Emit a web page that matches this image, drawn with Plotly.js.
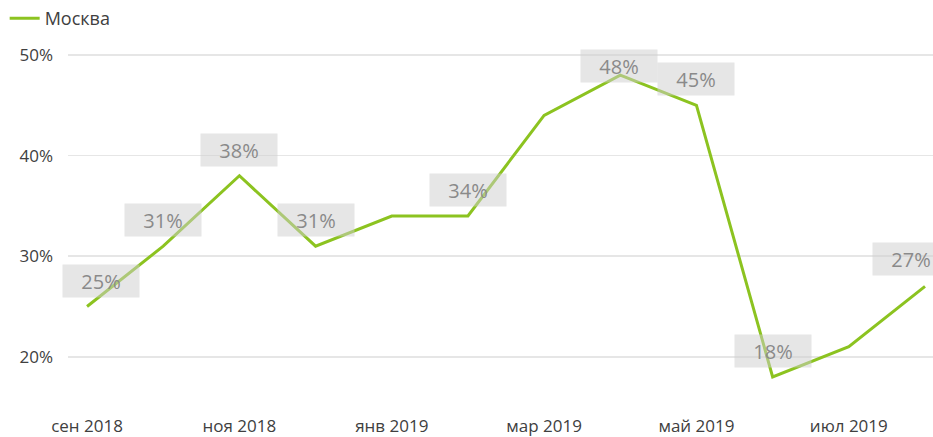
<!DOCTYPE html>
<html><head><meta charset="utf-8">
<script src="https://cdn.plot.ly/plotly-3.0.1.min.js"></script>
<style>html,body{margin:0;padding:0;background:#fff}#c{width:933px;height:437px}</style>
</head><body><div id="c"></div>
<script>
const months = ['сен 2018','окт 2018','ноя 2018','дек 2018','янв 2019','фев 2019','мар 2019','апр 2019','май 2019','июн 2019','июл 2019','авг 2019'];
const values = [25, 31, 38, 31, 34, 34, 44, 48, 45, 18, 21, 27];
const labelShown = [true, true, true, true, false, true, false, true, true, true, false, true];
const tickIdx = [0, 2, 4, 6, 8, 10];
const tickText = ['сен 2018','ноя 2018','янв 2019','мар 2019','май 2019','июл 2019'];
const yTicks = [20, 30, 40, 50];
const seriesName = 'Москва';

const xs = months.map((m, i) => i);
const FONT = '"Open Sans", "Noto Sans", sans-serif';

// label offsets (px) – default above the point
const off = {0: [14, -26], 7: [-1, -9], 11: [-14, -27]};
const annotations = [];
values.forEach((v, i) => {
  if (!labelShown[i]) return;
  const o = off[i] || [0, -26];
  annotations.push({
    x: i, y: v, xref: 'x', yref: 'y',
    text: v + '%', showarrow: true, arrowcolor: 'rgba(0,0,0,0)', arrowwidth: 0.1,
    ax: o[0], ay: o[1],
    bgcolor: 'rgba(205,205,205,0.5)', borderpad: 2, width: 72, height: 28,
    font: {family: FONT, size: 20, color: '#8a8a8a'}
  });
});

const trace = {
  x: xs, y: values, type: 'scatter', mode: 'lines', name: seriesName,
  line: {color: '#8cc320', width: 3}, cliponaxis: false, showlegend: true
};

const layout = {
  width: 933, height: 437,
  margin: {l: 68, r: 0, t: 40, b: 42, autoexpand: false},
  paper_bgcolor: '#fff', plot_bgcolor: '#fff',
  font: {family: FONT, color: '#404040', size: 17},
  showlegend: true,
  legend: {xref: 'container', yref: 'container', x: 0.005, y: 1, xanchor: 'left', yanchor: 'top',
           font: {family: FONT, size: 18, color: '#404040'}, bgcolor: 'rgba(0,0,0,0)'},
  xaxis: {range: [-0.25, 11.105], tickmode: 'array', tickvals: tickIdx, ticktext: tickText,
          showgrid: false, zeroline: false, showline: false, ticks: '', ticklabelstandoff: 19,
          automargin: false, tickfont: {family: FONT, size: 17, color: '#404040'}},
  yaxis: {range: [16.2, 51.5], tickmode: 'array', tickvals: yTicks, ticktext: yTicks.map(v => v + '%'),
          showgrid: true, gridcolor: '#e6e6e6', gridwidth: 1.5, zeroline: false, showline: false, ticks: '',
          automargin: false, ticklabelstandoff: 14, tickfont: {family: FONT, size: 17, color: '#404040'}},
  annotations: annotations
};

Plotly.newPlot('c', [trace], layout, {displayModeBar: false, staticPlot: true});
</script></body></html>
